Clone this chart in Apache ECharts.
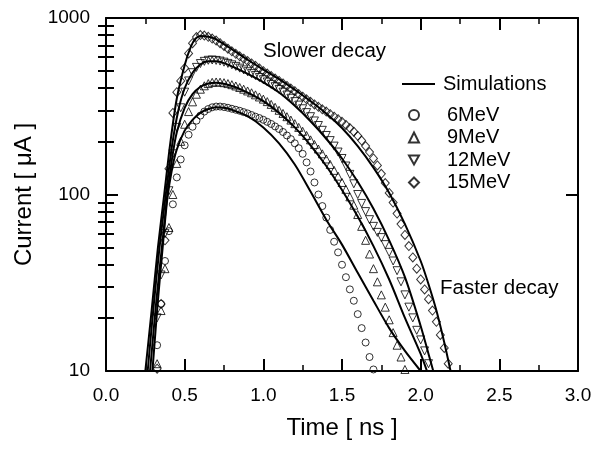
<!DOCTYPE html>
<html>
<head>
<meta charset="utf-8">
<script src="https://cdn.jsdelivr.net/npm/echarts@6/dist/echarts.min.js"></script>
<style>
  html, body { margin: 0; padding: 0; background: #fff; }
  #chart { width: 602px; height: 449px; }
</style>
</head>
<body>
<div id="chart"></div>
<script>
  // tick values
  var xTicks = [0.0, 0.5, 1.0, 1.5, 2.0, 2.5, 3.0];
  var yMajor = [10, 100, 1000];
  var yMinor = [20, 30, 40, 50, 60, 70, 80, 90, 200, 300, 400, 500, 600, 700, 800, 900];

  // simulations [time ns, current uA]
  var sim6 = [[0.295,10],[0.33,25],[0.36,50],[0.39,95],[0.42,140],[0.45,180],[0.50,230],[0.55,265],[0.60,290],[0.65,305],[0.70,312],[0.75,310],[0.80,302],[0.90,278],[1.00,240],[1.10,195],[1.20,148],[1.30,104],[1.40,72],[1.50,52],[1.60,36],[1.70,25],[1.80,17.5],[1.90,13],[2.00,10]];
  var sim9 = [[0.28,10],[0.32,25],[0.36,55],[0.39,100],[0.42,160],[0.45,225],[0.50,310],[0.55,370],[0.60,408],[0.65,426],[0.70,430],[0.80,412],[0.90,378],[1.00,338],[1.10,290],[1.20,240],[1.30,190],[1.40,145],[1.50,106],[1.60,75],[1.70,51],[1.80,33],[1.90,20],[2.00,12.5],[2.04,10]];
  var sim12 = [[0.265,10],[0.30,22],[0.34,50],[0.38,100],[0.42,190],[0.46,300],[0.50,400],[0.55,490],[0.60,545],[0.65,568],[0.70,568],[0.80,532],[0.90,482],[1.00,432],[1.10,378],[1.20,318],[1.30,260],[1.40,207],[1.50,160],[1.60,118],[1.70,83],[1.80,55],[1.90,34],[2.00,18],[2.05,12.5],[2.08,10]];
  var sim15 = [[0.25,10],[0.29,22],[0.33,50],[0.37,100],[0.41,200],[0.45,350],[0.50,540],[0.54,690],[0.57,765],[0.60,790],[0.63,788],[0.67,775],[0.70,757],[0.80,665],[0.90,580],[1.00,510],[1.10,450],[1.20,392],[1.30,338],[1.40,288],[1.50,238],[1.60,188],[1.70,142],[1.80,102],[1.90,68],[2.00,42],[2.05,31],[2.10,22],[2.15,14.5],[2.19,10]];

  // measured points, sampled at these times
  var expTime = [0.300,0.325,0.350,0.375,0.400,0.425,0.450,0.475,0.500,0.525,0.550,0.575,0.600,0.625,0.650,0.675,0.700,0.725,0.750,0.775,
                 0.800,0.825,0.850,0.875,0.900,0.925,0.950,0.975,1.000,1.025,1.050,1.075,1.100,1.125,1.150,1.175,1.200,1.225,1.250,1.275,
                 1.300,1.325,1.350,1.375,1.400,1.425,1.450,1.475,1.500,1.525,1.550,1.575,1.600,1.625,1.650,1.675,1.700,1.725,1.750,1.775,
                 1.800,1.825,1.850,1.875,1.900,1.925,1.950,1.975,2.000,2.025,2.050,2.075,2.100,2.125,2.150,2.175,2.200];
  var exp6 = [null,14,24,42,62,88,125,158,190,218,242,262,280,295,305,312,315,315,313,310,
              306,302,298,293,288,282,276,271,265,258,251,243,235,226,216,206,195,183,170,152,
              135,117,100,86,74,63,54,47,40,34,29,25,21,17.5,14.5,12,10.2,null,null,null,
              null,null,null,null,null,null,null,null,null,null,null,null,null,null,null,null,null];
  var exp9 = [null,11,22,38,65,100,150,200,250,295,335,370,395,413,425,432,434,433,430,425,
              419,412,404,395,386,377,367,357,347,336,324,312,300,288,276,264,252,240,228,216,
              204,192,181,170,159,148,137,127,117,107,97,87,77,66,55,46,38,32,27,23,
              19.5,16.5,14,12,10.2,null,null,null,null,null,null,null,null,null,null,null,null];
  var exp12 = [null,20,35,60,105,170,240,310,380,440,490,525,552,568,576,578,575,570,562,553,
               543,532,520,508,496,484,472,460,447,434,421,408,394,380,366,351,336,321,306,291,
               276,261,246,231,216,202,188,174,160,145,130,115,100,89,80,72,66,61,57,52,
               47,42,37,32,27,23,20,17,15,13,11,null,null,null,null,null,null];
  var exp15 = [null,10.3,24,55,140,290,380,440,520,630,720,780,800,795,782,765,745,720,695,670,
               648,627,607,588,570,553,536,518,500,484,469,454,440,426,412,398,385,371,358,346,
               335,324,314,304,295,285,276,267,258,248,238,227,215,202,188,174,160,146,131,116,
               102,90,78,68,59,51,44,38,33,29,25.5,22,19,16,13.5,11,null];

  var FONT = 'Liberation Sans, Arial, sans-serif';

  function pairs(vals) {
    var out = [];
    for (var i = 0; i < expTime.length; i++) {
      if (vals[i] != null) out.push([expTime[i], vals[i]]);
    }
    return out;
  }

  function simLine(data) {
    return {
      name: 'Simulations',
      type: 'line',
      data: data,
      symbol: 'none',
      smooth: 0.3,
      color: '#000',
      lineStyle: { color: '#000', width: 2 },
      z: 3
    };
  }

  function marks(name, vals, symbol, size, rotate) {
    return {
      name: name,
      type: 'scatter',
      data: pairs(vals),
      symbol: symbol,
      symbolSize: size,
      symbolRotate: rotate || 0,
      itemStyle: { color: 'rgba(0,0,0,0)', borderColor: '#000', borderWidth: 1 },
      z: 2
    };
  }

  var axisLine = { show: true, onZero: false, lineStyle: { color: '#000', width: 2 } };

  function xAx(pos, showLabel) {
    return {
      type: 'value', min: 0, max: 3, interval: 0.5, position: pos,
      axisLine: axisLine,
      axisTick: { show: true, inside: true, length: 12, lineStyle: { color: '#000', width: 2 } },
      minorTick: { show: true, splitNumber: 2, length: 6, lineStyle: { color: '#000', width: 1.5 } },
      splitLine: { show: false },
      axisLabel: {
        show: showLabel, color: '#000', fontSize: 19, fontFamily: FONT, margin: 15,
        formatter: function (v) { return v.toFixed(1); }
      },
      name: showLabel ? 'Time [ ns ]' : '',
      nameLocation: 'middle', nameGap: 45,
      nameTextStyle: { color: '#000', fontSize: 24, fontFamily: FONT }
    };
  }

  function yAx(pos, ticks, len, line, showLabel) {
    return {
      type: 'log', logBase: 10, min: 10, max: 1000, position: pos,
      axisLine: line ? axisLine : { show: false },
      axisTick: { show: true, inside: true, length: len, customValues: ticks, lineStyle: { color: '#000', width: 2 } },
      splitLine: { show: false },
      axisLabel: {
        show: showLabel, color: '#000', fontSize: 19, fontFamily: FONT, margin: 16, customValues: yMajor,
        formatter: function (v) { return String(Math.round(v)); }
      },
      name: showLabel ? 'Current [ \u03bcA ]' : '',
      nameLocation: 'middle', nameGap: 45,
      nameTextStyle: { color: '#000', fontSize: 24, fontFamily: FONT }
    };
  }

  var chart = echarts.init(document.getElementById('chart'));
  chart.setOption({
    backgroundColor: '#fff',
    animation: false,
    grid: { left: 106, right: 24, top: 18, bottom: 78 },
    xAxis: [xAx('bottom', true), xAx('top', false)],
    yAxis: [
      yAx('left', yMajor, 12, true, true),
      yAx('left', yMinor, 8, false, false),
      yAx('right', yMajor, 12, true, false),
      yAx('right', yMinor, 8, false, false)
    ],
    legend: [
      {
        data: [{ name: 'Simulations', icon: 'rect' }], left: 397, top: 69, selectedMode: false,
        itemWidth: 33, itemHeight: 2, itemGap: 0,
        itemStyle: { color: '#000', borderWidth: 0 },
        textStyle: { color: '#000', fontSize: 20, fontFamily: FONT, padding: [0, 0, 0, 3] }
      },
      {
        data: [
          '6MeV',
          '9MeV',
          { name: '12MeV', icon: 'path://M0,0 L10,0 L5,9 Z' },
          '15MeV'
        ],
        orient: 'vertical', left: 403, top: 100,
        selectedMode: false, itemWidth: 10, itemHeight: 10, itemGap: 2.5,
        textStyle: { color: '#000', fontSize: 20, fontFamily: FONT, lineHeight: 20, padding: [0, 0, 0, 23] }
      }
    ],
    graphic: [
      { type: 'text', left: 263, top: 41, style: { text: 'Slower decay', fill: '#000', fontSize: 20.5, fontFamily: FONT } },
      { type: 'text', left: 440, top: 278, style: { text: 'Faster decay', fill: '#000', fontSize: 20.5, fontFamily: FONT } }
    ],
    series: [
      simLine(sim6), simLine(sim9), simLine(sim12), simLine(sim15),
      marks('6MeV', exp6, 'circle', 7),
      marks('9MeV', exp9, 'triangle', 8),
      marks('12MeV', exp12, 'triangle', 8, 180),
      marks('15MeV', exp15, 'diamond', [8, 9])
    ]
  });
</script>
</body>
</html>
